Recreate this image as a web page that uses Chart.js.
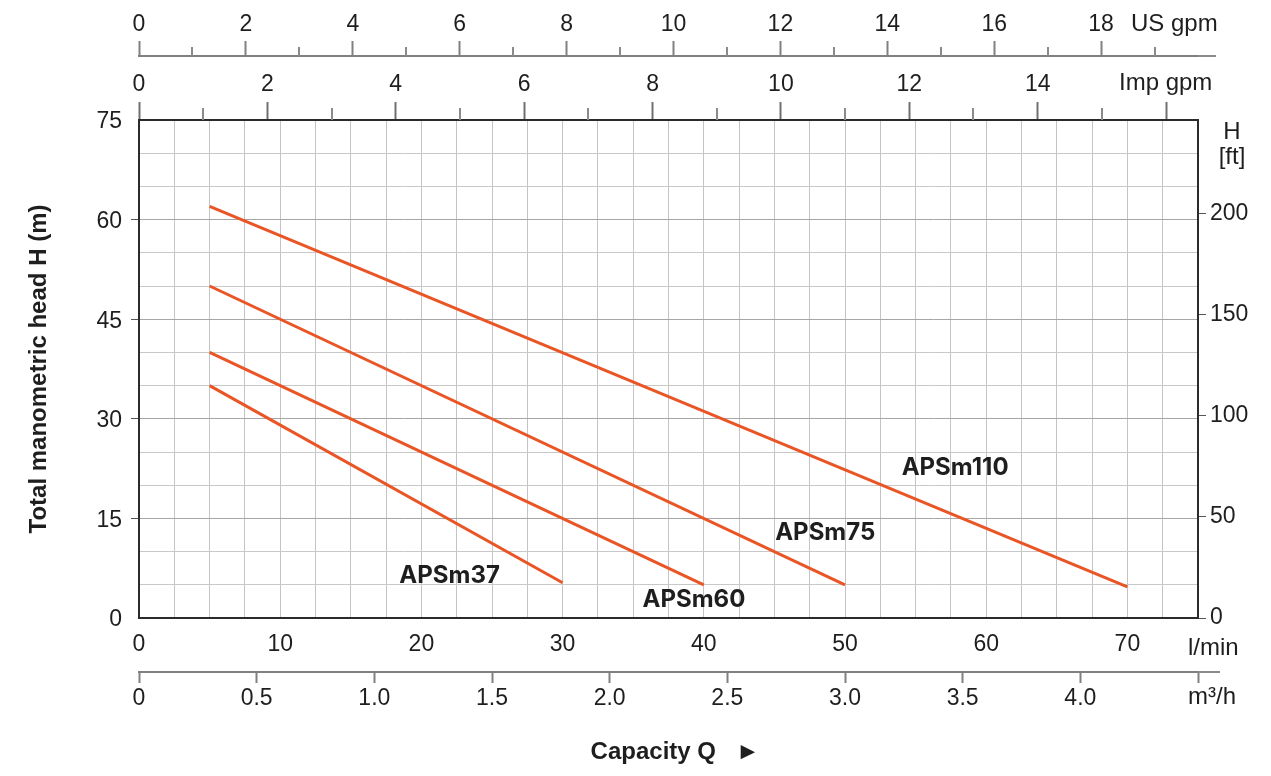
<!DOCTYPE html>
<html>
<head>
<meta charset="utf-8">
<title>APSm performance curves</title>
<script src="https://cdn.jsdelivr.net/npm/chart.js@4.4.1/dist/chart.umd.min.js"></script>
<style>
  html, body { margin: 0; padding: 0; background: #fff; }
  #chart { display: block; }
</style>
</head>
<body>
<canvas id="chart" width="1271" height="776"></canvas>
<script>
// pump models
const models = ['APSm37', 'APSm60', 'APSm75', 'APSm110'];

// capacity (l/min) and head (m) at both ends of each curve
const flowAPSm37 = [5, 30];
const headAPSm37 = [35, 5.3];
const flowAPSm60 = [5, 40];
const headAPSm60 = [40, 5];
const flowAPSm75 = [5, 50];
const headAPSm75 = [50, 5];
const flowAPSm110 = [5, 70];
const headAPSm110 = [62, 4.7];

// tick labels of every axis
const lminLabels = [0, 10, 20, 30, 40, 50, 60, 70];
const headLabels = [0, 15, 30, 45, 60, 75];
const ftLabels = [0, 50, 100, 150, 200];
const usGpmLabels = [0, 2, 4, 6, 8, 10, 12, 14, 16, 18];
const impGpmLabels = [0, 2, 4, 6, 8, 10, 12, 14];
const m3hLabels = [0, 0.5, 1.0, 1.5, 2.0, 2.5, 3.0, 3.5, 4.0];

// unit conversions
const LPM_PER_USGPM = 3.78541;
const LPM_PER_IMPGPM = 4.54609;
const LPM_PER_M3H = 1000 / 60;
const M_PER_FT = 0.3048;
const MAX_LPM = 75;
const MAX_HEAD = 75;

const FONT = "'Liberation Sans', Arial, sans-serif";
const TXT = '#1e1e1e';
const LINE = '#ea5526';
const tickFont = { family: FONT, size: 23 };

function hasLabel(list, v) {
    return list.some(l => Math.abs(l - v) < 1e-6);
}
function even(v) {
    return Math.abs(v % 2) < 1e-6;
}

const seriesData = [
    [flowAPSm37, headAPSm37],
    [flowAPSm60, headAPSm60],
    [flowAPSm75, headAPSm75],
    [flowAPSm110, headAPSm110]
];

const datasets = models.map((name, k) => ({
    label: name,
    data: seriesData[k][0].map((f, i) => ({ x: f, y: seriesData[k][1][i] })),
    showLine: true,
    borderColor: LINE,
    borderWidth: 3,
    pointRadius: 0,
    xAxisID: 'x',
    yAxisID: 'y'
}));

// short minor ticks on the gpm axes, unit names and curve names
const extraText = {
    id: 'extraText',
    afterDraw(chart) {
        const ctx = chart.ctx;
        const a = chart.chartArea;
        const sx = chart.scales.x, sy = chart.scales.y;
        const us = chart.scales.usGpm, imp = chart.scales.impGpm;
        ctx.save();

        ctx.lineWidth = 2;
        ctx.strokeStyle = '#8a8a8a';
        ctx.beginPath();
        us.ticks.forEach(t => {
            if (!even(t.value)) {
                const px = Math.round(us.getPixelForValue(t.value));
                ctx.moveTo(px, us.bottom);
                ctx.lineTo(px, us.bottom - 9);
            }
        });
        imp.ticks.forEach(t => {
            if (!even(t.value)) {
                const px = Math.round(imp.getPixelForValue(t.value));
                ctx.moveTo(px, a.top);
                ctx.lineTo(px, a.top - 12);
            }
        });
        // small extensions of the outer axis lines
        ctx.moveTo(a.right, us.bottom);
        ctx.lineTo(a.right + 18, us.bottom);
        ctx.moveTo(a.right, chart.scales.m3h.top);
        ctx.lineTo(a.right + 22, chart.scales.m3h.top);
        ctx.stroke();

        ctx.fillStyle = TXT;
        ctx.font = '24px ' + FONT;
        ctx.textBaseline = 'middle';
        ctx.textAlign = 'left';
        ctx.fillText('US gpm', 1131, 24);
        ctx.fillText('Imp gpm', 1119, 83);
        ctx.fillText('l/min', 1188, 648);
        ctx.fillText('m\u00b3/h', 1188, 697);
        ctx.textAlign = 'center';
        ctx.fillText('H', 1232, 132);
        ctx.fillText('[ft]', 1232, 157);

        // curve names, placed in data units
        ctx.font = "bold 24px Inter, 'Open Sans', sans-serif";
        const labelPos = { APSm37: [22, 6.3], APSm60: [39.3, 2.7], APSm75: [48.6, 12.8], APSm110: [57.8, 22.6] };
        models.forEach(m => {
            const p = labelPos[m];
            ctx.fillText(m, sx.getPixelForValue(p[0]), sy.getPixelForValue(p[1]));
        });
        ctx.restore();
    }
};

new Chart(document.getElementById('chart'), {
    type: 'scatter',
    data: { datasets },
    options: {
        responsive: false,
        animation: false,
        layout: { padding: 0 },
        plugins: {
            legend: { display: false },
            tooltip: { enabled: false }
        },
        scales: {
            x: {
                type: 'linear', position: 'bottom', weight: 0,
                min: 0, max: MAX_LPM,
                ticks: {
                    stepSize: 2.5, autoSkip: false, maxRotation: 0, includeBounds: false,
                    padding: 13, color: TXT, font: tickFont,
                    callback: v => hasLabel(lminLabels, v) ? String(v) : ''
                },
                grid: { color: '#c4c4c4', lineWidth: 1, drawTicks: false },
                border: { color: '#2b2b2b', width: 2 },
                afterFit: s => { s.height = 54; }
            },
            m3h: {
                type: 'linear', position: 'bottom', weight: 1,
                min: 0, max: MAX_LPM / LPM_PER_M3H,
                ticks: {
                    stepSize: 0.5, autoSkip: false, maxRotation: 0, includeBounds: false,
                    padding: 2, color: TXT, font: tickFont,
                    callback: v => hasLabel(m3hLabels, v) ? (v === 0 ? '0' : v.toFixed(1)) : ''
                },
                grid: { drawOnChartArea: false, tickLength: 11, tickWidth: 2, tickColor: '#808080' },
                border: { color: '#808080', width: 2 },
                title: {
                    display: true, text: '  Capacity Q   \u25ba', color: TXT,
                    font: { family: FONT, size: 24, weight: 'bold' },
                    padding: { top: 0, bottom: 9 }
                },
                afterFit: s => { s.height = 104; }
            },
            impGpm: {
                type: 'linear', position: 'top', weight: 0,
                min: 0, max: MAX_LPM / LPM_PER_IMPGPM,
                ticks: {
                    stepSize: 1, autoSkip: false, maxRotation: 0, includeBounds: false,
                    padding: 4, color: TXT, font: tickFont,
                    callback: v => hasLabel(impGpmLabels, v) ? String(v) : ''
                },
                grid: {
                    drawOnChartArea: false, tickLength: 18, tickWidth: 2,
                    tickColor: c => even(c.tick.value) ? '#707070' : 'rgba(0,0,0,0)'
                },
                border: { color: '#2b2b2b', width: 2 },
                afterFit: s => { s.height = 64; }
            },
            usGpm: {
                type: 'linear', position: 'top', weight: 1,
                min: 0, max: MAX_LPM / LPM_PER_USGPM,
                ticks: {
                    stepSize: 1, autoSkip: false, maxRotation: 0, includeBounds: false,
                    padding: 3, color: TXT, font: tickFont,
                    callback: v => hasLabel(usGpmLabels, v) ? String(v) : ''
                },
                grid: {
                    drawOnChartArea: false, tickLength: 15, tickWidth: 2,
                    tickColor: c => even(c.tick.value) ? '#808080' : 'rgba(0,0,0,0)'
                },
                border: { color: '#808080', width: 2 },
                afterFit: s => { s.height = 56; }
            },
            y: {
                type: 'linear', position: 'left',
                min: 0, max: MAX_HEAD,
                ticks: {
                    stepSize: 5, autoSkip: false, includeBounds: false,
                    padding: 9, labelOffset: 2, color: TXT, font: tickFont,
                    callback: v => hasLabel(headLabels, v) ? String(v) : ''
                },
                grid: {
                    color: c => (c.tick && c.tick.value % 15 === 0) ? '#a6a6a6' : '#c8c8c8',
                    lineWidth: 1, tickLength: 8,
                    tickColor: c => (c.tick && c.tick.value % 15 === 0 && c.tick.value > 0 && c.tick.value < 75) ? '#555' : 'rgba(0,0,0,0)'
                },
                border: { color: '#2b2b2b', width: 2 },
                title: {
                    display: true, text: 'Total manometric head H (m)', color: TXT,
                    font: { family: FONT, size: 24, weight: 'bold' },
                    padding: { top: 25, bottom: 0 }
                },
                afterFit: s => { s.width = 139; }
            },
            ft: {
                type: 'linear', position: 'right',
                min: 0, max: MAX_HEAD / M_PER_FT,
                ticks: {
                    stepSize: 50, autoSkip: false, includeBounds: false,
                    padding: 4, color: TXT, font: tickFont,
                    callback: v => hasLabel(ftLabels, v) ? String(v) : ''
                },
                grid: { drawOnChartArea: false, tickLength: 8, tickColor: '#555' },
                border: { color: '#2b2b2b', width: 2 },
                afterFit: s => { s.width = 73; }
            }
        }
    },
    plugins: [extraText]
});
</script>
</body>
</html>
